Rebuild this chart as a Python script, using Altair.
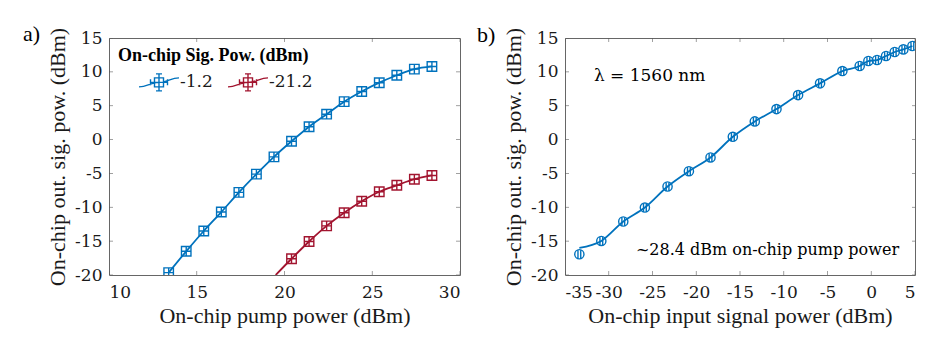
import altair as alt
import pandas as pd

# ---------------- data ----------------
pump_blue = [13.4, 14.4, 15.4, 16.4, 17.4, 18.4, 19.4, 20.4, 21.4, 22.4, 23.4, 24.4, 25.4, 26.4, 27.4, 28.4]
out_blue = [-19.65, -16.5, -13.5, -10.7, -7.8, -5.1, -2.55, -0.25, 1.9, 3.75, 5.6, 7.1, 8.4, 9.5, 10.4, 10.8]
pump_red = [20.4, 21.4, 22.4, 23.4, 24.4, 25.4, 26.4, 27.4, 28.4]
out_red = [-17.6, -15.05, -12.75, -10.8, -9.1, -7.7, -6.75, -5.85, -5.3]
# fitted curves (the red fit continues to the bottom edge)
fit_pump_red = [19.5] + pump_red
fit_out_red = [-20.0] + out_red
fit_pump_blue = pump_blue
fit_out_blue = out_blue
series_names = ["-1.2", "-21.2"]
series_colors = ["#0072BD", "#A2142F"]
legend_title = "On-chip Sig. Pow. (dBm)"

sig_in = [-33.36, -30.85, -28.34, -25.87, -23.28, -20.84, -18.37, -15.82, -13.31, -10.83,
          -8.36, -5.85, -3.3, -1.32, -0.33, 0.66, 1.69, 2.68, 3.67, 4.7]
sig_out = [-16.94, -14.97, -12.1, -10.04, -6.93, -4.67, -2.64, 0.41, 2.68, 4.5,
           6.57, 8.3, 10.12, 10.86, 11.6, 11.75, 12.34, 12.93, 13.32, 13.82]
fit_sig_in = sig_in
fit_sig_out = [-16.0] + sig_out[1:]

xticks_a = [10, 15, 20, 25, 30]
xticks_b = [-35, -30, -25, -20, -15, -10, -5, 0, 5]
yticks = [-20, -15, -10, -5, 0, 5, 10, 15]
panel_labels = ["a)", "b)"]
ann_text = ["\u03bb = 1560 nm", "~28.4 dBm on-chip pump power"]
ann_x = [-31.7, -26.9]
ann_y = [8.65, -17.05]
ann_size = [17, 16]

FONT = "Times New Roman"
NUMFONT = "DejaVu Serif"
TXT = "#1a1a1a"
BLUE = series_colors[0]
W, H = 351, 237
HYPHEN = "(datum.value < 0 ? '-' : '') + abs(datum.value)"

# marker shapes
SQ_MARK = "M-1,-1H1V1H-1Z M0,-1V1 M-1,0H1"
CI_MARK = "M-1,0A1,1 0 1,0 1,0A1,1 0 1,0 -1,0Z M-0.3,-0.85V0.85 M0.3,-0.85V0.85"
LEG_SYM = ("M-2,0.45C-1.2,0.45 -0.8,0 0,0C0.8,0 1.2,-0.45 2,-0.45 "
           "M-0.45,-0.45H0.45V0.45H-0.45Z M0,-0.85V0.85 M-0.3,-0.85H0.3 M-0.3,0.85H0.3 "
           "M-0.85,0H0.85 M-0.85,-0.3V0.3 M0.85,-0.3V0.3")

ax_y = alt.Axis(values=yticks, title="On-chip out. sig. pow. (dBm)", labelExpr=HYPHEN)
ax_xa = alt.Axis(values=xticks_a, title="On-chip pump power (dBm)", labelExpr=HYPHEN)
ax_xb = alt.Axis(values=xticks_b, title="On-chip input signal power (dBm)", labelExpr=HYPHEN)


def ticks_layers(xvals, xscale, xaxis, yscale):
    tx = pd.DataFrame({"v": xvals})
    ty = pd.DataFrame({"v": yticks})
    base_tick = dict(color="#555555", thickness=0.8, size=8, clip=True)
    layers = []
    for yv in [0, H]:
        layers.append(alt.Chart(tx).mark_tick(orient="vertical", **base_tick).encode(
            x=alt.X("v:Q", scale=xscale, axis=xaxis), y=alt.value(yv)))
    for xv in [0, W]:
        layers.append(alt.Chart(ty).mark_tick(orient="horizontal", **base_tick).encode(
            y=alt.Y("v:Q", scale=yscale, axis=ax_y), x=alt.value(xv)))
    return layers


# ---------------- panel a ----------------
pts_a = pd.DataFrame({
    "pump": pump_blue + pump_red,
    "out": out_blue + out_red,
    "series": [series_names[0]] * len(pump_blue) + [series_names[1]] * len(pump_red),
})
fit_a = pd.DataFrame({
    "pump": fit_pump_blue + fit_pump_red,
    "out": fit_out_blue + fit_out_red,
    "series": [series_names[0]] * len(fit_pump_blue) + [series_names[1]] * len(fit_pump_red),
})

xs_a = alt.Scale(domain=[10, 30], nice=False, zero=False)
ys = alt.Scale(domain=[-20, 15], nice=False, zero=False)
legend = alt.Legend(
    title=None, orient="none", legendX=39, legendY=33,
    direction="horizontal", labelFont=NUMFONT, labelFontSize=17,
    labelFontWeight="normal", labelColor=TXT, symbolType=LEG_SYM, symbolSize=400,
    symbolStrokeWidth=1.4, symbolOffset=0, labelOffset=10, columnPadding=12, padding=0,
)
color_a = alt.Color("series:N", scale=alt.Scale(domain=series_names, range=series_colors),
                    legend=legend)

xa = alt.X("pump:Q", scale=xs_a, axis=ax_xa)
ya = alt.Y("out:Q", scale=ys, axis=ax_y)

line_a = alt.Chart(fit_a).mark_line(strokeWidth=1.8, interpolate="monotone", clip=True).encode(
    x=xa, y=ya, color=color_a, detail="series:N")
pt_a = alt.Chart(pts_a).mark_point(shape=SQ_MARK, size=90, filled=False, strokeWidth=1.4,
                                   opacity=1, clip=True).encode(
    x=xa, y=ya, color=color_a)
leg_title = alt.Chart(pd.DataFrame({"t": [legend_title]})).mark_text(
    font=FONT, fontSize=18, fontWeight="bold", align="left", baseline="alphabetic",
    color="black").encode(text="t:N", x=alt.value(9), y=alt.value(23))
lab_a = alt.Chart(pd.DataFrame({"t": [panel_labels[0]]})).mark_text(
    font=FONT, fontSize=22, fontWeight="normal", align="left", baseline="alphabetic",
    color="black").encode(text="t:N", x=alt.value(-86), y=alt.value(3))

panel_a = alt.layer(line_a, pt_a, *ticks_layers(xticks_a, xs_a, ax_xa, ys), leg_title,
                    lab_a).properties(width=W, height=H)

# ---------------- panel b ----------------
pts_b = pd.DataFrame({"sin": sig_in, "sout": sig_out})
fit_b = pd.DataFrame({"sin": fit_sig_in, "sout": fit_sig_out})
ann_b = pd.DataFrame({"x": ann_x, "y": ann_y, "t": ann_text, "s": ann_size})

xs_b = alt.Scale(domain=[-35, 5], nice=False, zero=False)
xb = alt.X("sin:Q", scale=xs_b, axis=ax_xb)
yb = alt.Y("sout:Q", scale=ys, axis=ax_y)

line_b = alt.Chart(fit_b).mark_line(strokeWidth=1.8, interpolate="monotone", color=BLUE,
                                    clip=True).encode(x=xb, y=yb)
pt_b = alt.Chart(pts_b).mark_point(shape=CI_MARK, size=85, filled=False, strokeWidth=1.4,
                                   color=BLUE, opacity=1, clip=True).encode(x=xb, y=yb)
ann_layers = []
for i in range(len(ann_text)):
    ann_layers.append(alt.Chart(ann_b.iloc[[i]]).mark_text(
        font=NUMFONT, fontSize=ann_size[i], fontWeight="normal", align="left",
        baseline="alphabetic", color="black").encode(
        x=alt.X("x:Q", scale=xs_b, axis=ax_xb), y=alt.Y("y:Q", scale=ys, axis=ax_y),
        text="t:N"))
lab_b = alt.Chart(pd.DataFrame({"t": [panel_labels[1]]})).mark_text(
    font=FONT, fontSize=22, fontWeight="normal", align="left", baseline="alphabetic",
    color="black").encode(text="t:N", x=alt.value(-88), y=alt.value(4))

panel_b = alt.layer(line_b, pt_b, *ann_layers, *ticks_layers(xticks_b, xs_b, ax_xb, ys),
                    lab_b).properties(width=350, height=H)

chart = alt.HConcatChart(hconcat=[panel_a, panel_b], spacing=105, bounds="flush").resolve_scale(
    color="independent"
).properties(
    padding={"left": 22, "top": 22, "right": 5, "bottom": 5}, background="white"
).configure_view(
    stroke="#666666", strokeWidth=1
).configure_axis(
    domain=False, ticks=False, grid=False, labelFont=NUMFONT, labelFontSize=17,
    labelFontWeight="normal", labelColor=TXT, labelOverlap=False,
    titleFont=FONT, titleFontSize=22, titleFontWeight="normal", titleColor=TXT,
).configure_axisX(labelPadding=9, titlePadding=5).configure_axisY(
    labelPadding=7, titlePadding=5
)

chart.save("out.html", embed_options={"renderer": "svg", "actions": False})
